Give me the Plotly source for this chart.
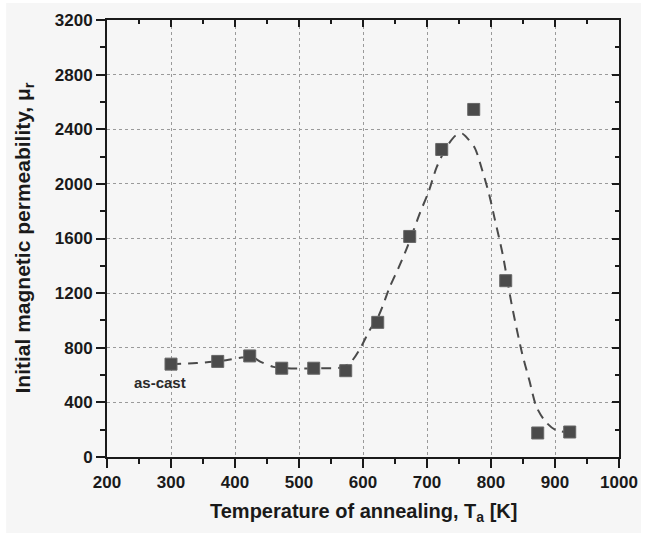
import plotly.graph_objects as go

# Measured data (annealing temperature K, initial permeability)
temp_K = [300, 373, 423, 473, 523, 573, 623, 673, 723, 773, 823, 873, 923]
mu_r = [680, 700, 740, 650, 650, 632, 986, 1615, 2252, 2545, 1291, 176, 183]

# Dashed guide curve
fit_T = [300, 340, 380, 410, 425, 441, 460, 480, 510, 540, 565, 580, 595, 610, 625,
         642, 656, 669, 679, 690, 702, 715, 730, 745, 755, 764, 775, 785, 797, 805,
         818, 832, 848, 860, 871, 885, 900, 915]
fit_mu = [680, 688, 705, 728, 735, 695, 660, 650, 648, 650, 655, 690, 790, 925, 1040,
          1247, 1390, 1535, 1660, 1800, 1935, 2120, 2265, 2355, 2368, 2330, 2260, 2120, 1925, 1760,
          1490, 1125, 771, 560, 368, 260, 200, 183]

x_ticks = [200, 300, 400, 500, 600, 700, 800, 900, 1000]
y_ticks = [0, 400, 800, 1200, 1600, 2000, 2400, 2800, 3200]

FONT = "Liberation Sans, Arial, sans-serif"
BG = "#f6f6f6"
AX = "#1a1a1a"

fig = go.Figure()
fig.add_trace(go.Scatter(x=fit_T, y=fit_mu, mode="lines",
                         line=dict(color="#4a4a4a", width=2, dash="10px,7px", shape="spline", smoothing=0.8),
                         hoverinfo="skip", showlegend=False))
fig.add_trace(go.Scatter(x=temp_K, y=mu_r, mode="markers",
                         marker=dict(symbol="square", size=12, color="#4b4b4b",
                                     line=dict(color="#666666", width=1)),
                         showlegend=False))
# invisible trace to activate mirrored (top/right) axes
fig.add_trace(go.Scatter(x=temp_K, y=mu_r, mode="markers", xaxis="x2", yaxis="y2",
                         marker=dict(opacity=0), hoverinfo="skip", showlegend=False))

tickfont = dict(family=FONT, size=17, color="#1a1a1a", weight="bold")
grid = dict(showgrid=True, gridcolor="#9a9a9a", griddash="dot", gridwidth=1)

fig.update_layout(
    width=653, height=533,
    margin=dict(l=107, r=34, t=20, b=76),
    paper_bgcolor="white", plot_bgcolor=BG,
    xaxis=dict(range=[200, 1000], tickvals=x_ticks, ticktext=[str(v) for v in x_ticks],
               ticks="outside", ticklen=9, tickwidth=2, tickcolor=AX,
               minor=dict(dtick=50, tick0=200, ticks="outside", ticklen=5, tickwidth=2, tickcolor=AX),
               showline=True, linecolor=AX, linewidth=2, zeroline=False,
               tickfont=tickfont, **grid),
    yaxis=dict(range=[0, 3200], tickvals=y_ticks, ticktext=[str(v) for v in y_ticks],
               ticks="outside", ticklen=9, tickwidth=2, tickcolor=AX,
               minor=dict(dtick=200, tick0=0, ticks="outside", ticklen=5, tickwidth=2, tickcolor=AX),
               showline=True, linecolor=AX, linewidth=2, zeroline=False,
               tickfont=tickfont, **grid),
    xaxis2=dict(range=[200, 1000], overlaying="x", side="top", anchor="y",
                tickvals=x_ticks, ticks="inside", ticklen=7, tickwidth=2, tickcolor=AX,
                minor=dict(dtick=50, tick0=200, ticks="inside", ticklen=4, tickwidth=2, tickcolor=AX),
                showticklabels=False, showline=True, linecolor=AX, linewidth=2,
                showgrid=False, zeroline=False),
    yaxis2=dict(range=[0, 3200], overlaying="y", side="right", anchor="x",
                tickvals=y_ticks, ticks="inside", ticklen=7, tickwidth=2, tickcolor=AX,
                minor=dict(dtick=200, tick0=0, ticks="inside", ticklen=4, tickwidth=2, tickcolor=AX),
                showticklabels=False, showline=True, linecolor=AX, linewidth=2,
                showgrid=False, zeroline=False),
    shapes=[dict(type="rect", xref="paper", yref="paper",
                 x0=-0.197, x1=1.043, y0=-0.174, y1=1.039,
                 fillcolor=BG, line=dict(width=0), layer="below")],
    annotations=[
        dict(text="Temperature of annealing, T<sub>a</sub> [K]", xref="paper", yref="paper",
             x=0.5, y=0, xanchor="center", yanchor="middle", yshift=-55, showarrow=False,
             font=dict(family=FONT, size=20, color="#1a1a1a", weight="bold")),
        dict(text="Initial magnetic permeability, \u03bc<sub>r</sub>", xref="paper", yref="paper",
             x=0, y=0.5, xanchor="center", yanchor="middle", xshift=-84, textangle=-90,
             showarrow=False,
             font=dict(family=FONT, size=21, color="#1a1a1a", weight="bold")),
        dict(text="as-cast", x=283, y=545, xref="x", yref="y", showarrow=False,
             xanchor="center", yanchor="middle",
             font=dict(family=FONT, size=15, color="#2a2a2a", weight="bold")),
    ],
)

fig.write_html("out.html", config={"displayModeBar": False},
               post_script="document.body.style.margin='0';document.body.style.overflow='hidden';")
